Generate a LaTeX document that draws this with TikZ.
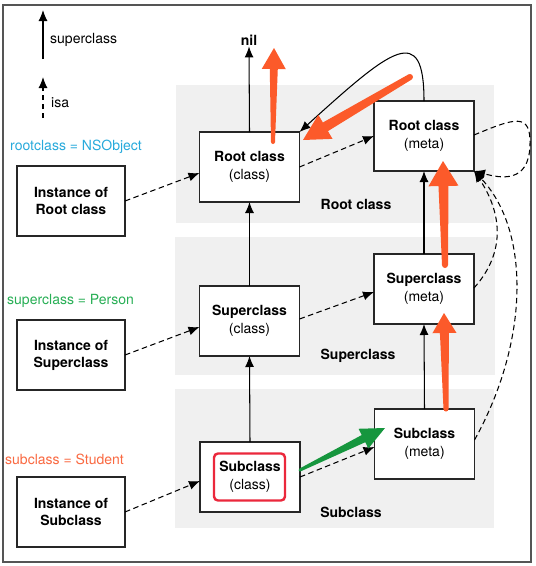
\documentclass[tikz,border=0pt]{standalone}
\usepackage{fontspec}
\setmainfont{TeX Gyre Heros}
\usetikzlibrary{calc,arrows.meta}
\definecolor{orr}{RGB}{252,90,42}
\definecolor{grn}{RGB}{22,150,62}
\definecolor{cyantxt}{RGB}{40,170,220}
\definecolor{grntxt}{RGB}{40,175,85}
\definecolor{orntxt}{RGB}{250,105,65}
\definecolor{redbox}{RGB}{235,40,60}
\definecolor{bandgray}{RGB}{240,240,240}
\definecolor{framegray}{RGB}{85,85,85}
% #1 colour, #2 tail, #3 tip, #4 tail half width, #5 neck half width, #6 head half width, #7 head length
\newcommand\fatarr[7]{%
  \coordinate (fab) at ($(#3)!#7!(#2)$);
  \fill[#1] ($(#2)!#4!90:(#3)$) -- ($(fab)!#5!90:(#3)$) -- ($(fab)!#6!90:(#3)$) -- (#3)
    -- ($(fab)!#6!-90:(#3)$) -- ($(fab)!#5!-90:(#3)$) -- ($(#2)!#4!-90:(#3)$) -- cycle;
  \fill[#1] (#2) circle[radius=#4];
}
\begin{document}
\begin{tikzpicture}[x=1pt,y=-1pt,
  box/.style={draw=black!85, line width=1.3pt, fill=white, minimum width=100pt, minimum height=70pt,
    inner sep=0pt, outer sep=0pt, align=center, font=\fontsize{14}{18}\selectfont},
  ibox/.style={box, minimum width=108pt, font=\fontsize{14}{17}\selectfont\bfseries},
  sup/.style={draw=black, line width=1.05pt, -{Latex[length=11pt,width=9pt]}},
  isa/.style={sup, dash pattern=on 5.5pt off 3.5pt},
  band/.style={fill=bandgray, draw=none},
  lbl/.style={font=\fontsize{14}{17}\selectfont, inner sep=0pt, anchor=west},
  bandlbl/.style={font=\fontsize{14}{17}\selectfont\bfseries, inner sep=0pt}]
\useasboundingbox (0,0) rectangle (536,566);
\fill[white] (0,0) rectangle (536,566);
\draw[framegray, line width=1.5pt] (3,5) rectangle (531,562);
% bands
\fill[band] (176,85) rectangle (494,223);
\fill[band] (175,237) rectangle (495,375);
\fill[band] (175,389) rectangle (494,528);
% band labels
\node[bandlbl] (bl1) at (356,204) {Root class};
\node[bandlbl] (bl2) at (358,356) {Superclass};
\node[bandlbl] (bl3) at (351,512) {Subclass};
% legend
\coordinate (lg1a) at (43,59);
\coordinate (lg1b) at (43,10);
\draw[sup] (lg1a) -- (lg1b);
\node[lbl] (lgt1) at (50,40) {superclass};
\coordinate (lg2a) at (43,118);
\coordinate (lg2b) at (43,77);
\draw[isa] (lg2a) -- (lg2b);
\node[lbl] (lgt2) at (51,103) {isa};
% colored labels
\node[lbl, text=cyantxt] (t1) at (10,147) {rootclass = NSObject};
\node[lbl, text=grntxt] (t2) at (7,301) {superclass = Person};
\node[lbl, text=orntxt] (t3) at (5,459) {subclass = Student};
% boxes
\node[box] (rc) at (249.5,167) {\textbf{Root class}\\(class)};
\node[box] (rm) at (424,136) {\textbf{Root class}\\(meta)};
\node[box] (sc) at (249.5,321) {\textbf{Superclass}\\(class)};
\node[box] (sm) at (424,289) {\textbf{Superclass}\\(meta)};
\node[box] (subc) at (250,477) {\textbf{Subclass}\\(class)};
\node[box] (subm) at (424.5,444) {\textbf{Subclass}\\(meta)};
\node[ibox] (ir) at (71,201) {Instance of\\Root class};
\node[ibox] (is) at (71,355) {Instance of\\Superclass};
\node[ibox] (isub) at (71,512) {Instance of\\Subclass};
\draw[redbox, line width=2.4pt, rounded corners=4pt] (214,453.5) rectangle (285,500.5);
\node[font=\fontsize{14}{17}\selectfont\bfseries, inner sep=1pt] (nil) at (249,40) {nil};
% superclass arrows
\draw[sup] (rc.north) -- (nil.south);
\draw[sup] (sc.north) -- (rc.south);
\draw[sup] (subc.north) -- (sc.south);
\draw[sup] (sm.north) -- (rm.south);
\draw[sup] (subm.north) -- (sm.south);
\draw[sup] (rm.north) .. controls (424,22) and (392,48) .. (rc.north east);
% isa arrows
\draw[isa] (ir.east) -- ([yshift=-6pt]rc.west);
\draw[isa] (is.east) -- ([yshift=-6pt]sc.west);
\draw[isa] (isub.east) -- ([yshift=-4pt]subc.west);
\draw[isa] (rc.east) -- (rm.west);
\draw[isa] ([yshift=2pt]sc.east) -- ([yshift=-3pt]sm.west);
\draw[isa] (subc.east) -- ([yshift=-3pt]subm.west);
\draw[isa] ([yshift=1pt]rm.east) .. controls (515,118) and (531,112) .. (530,145)
   .. controls (529,184) and (500,178) .. (rm.south east);
\draw[isa] ([yshift=1pt]sm.east) .. controls (508,250) and (500,210) .. (rm.south east);
\draw[isa] ([yshift=4pt]subm.east) .. controls (530,340) and (530,230) .. (rm.south east);
% highlight arrows
\coordinate (o1a) at (273,142); \coordinate (o1b) at (274,48);
\coordinate (o2a) at (410,77);  \coordinate (o2b) at (303,140);
\coordinate (o3a) at (445,265); \coordinate (o3b) at (443,161);
\coordinate (o4a) at (446,409); \coordinate (o4b) at (444,313);
\coordinate (g1a) at (300,470); \coordinate (g1b) at (385,428);
\fatarr{orr}{o1a}{o1b}{2pt}{4pt}{12pt}{21pt}
\fatarr{orr}{o2a}{o2b}{3pt}{5pt}{14pt}{26pt}
\fatarr{orr}{o3a}{o3b}{3pt}{5pt}{15pt}{25pt}
\fatarr{orr}{o4a}{o4b}{2.5pt}{4.5pt}{12pt}{20pt}
\fatarr{grn}{g1a}{g1b}{1.5pt}{4pt}{11pt}{24pt}
\end{tikzpicture}
\end{document}
